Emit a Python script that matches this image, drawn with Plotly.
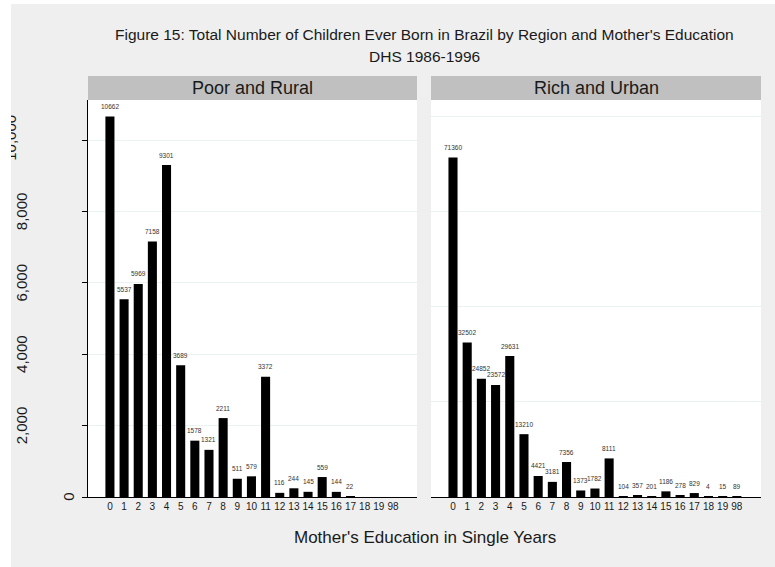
import plotly.graph_objects as go

# Mother's years of schooling (98 = unknown)
categories = [str(i) for i in range(20)] + ["98"]

# Total children ever born, by region group
poor_rural = [10662, 5537, 5969, 7158, 9301, 3689, 1578, 1321, 2211, 511, 579,
              3372, 116, 244, 145, 559, 144, 22, None, None, None]
rich_urban = [71360, 32502, 24852, 23572, 29631, 13210, 4421, 3181, 7356, 1373,
              1782, 8111, 104, 357, 201, 1186, 278, 829, 4, 15, 89]

panel_titles = ["Poor and Rural", "Rich and Urban"]
left_ticks = [0, 2000, 4000, 6000, 8000, 10000]
left_tick_text = ["0", "2,000", "4,000", "6,000", "8,000", "10,000"]
right_grid = [0, 20000, 40000, 60000, 80000]

FONT = "Liberation Sans, Arial, sans-serif"
W, H = 775, 567
ML, MR, MT, MB = 88, 14, 100, 70
PW = W - ML - MR
PH = H - MT - MB
gap_px = 14
split = (417 - ML) / PW
dom1 = [0, split]
dom2 = [split + gap_px / PW, 1]
TICK_FS = 15
LEFT_RANGE = [0, 11122]

fig = go.Figure()
for vals, xa, ya in [(poor_rural, "x", "y"), (rich_urban, "x2", "y2")]:
    fig.add_trace(go.Bar(
        x=categories, y=vals, xaxis=xa, yaxis=ya,
        marker=dict(color="black", line=dict(width=0)),
        width=0.64, showlegend=False, hoverinfo="x+y",
    ))
# empty trace so the overlaid label axis is drawn
fig.add_trace(go.Scatter(x=[None], y=[None], xaxis="x", yaxis="y3",
                         mode="markers", showlegend=False, hoverinfo="skip"))

annotations = []
# value labels above each bar (x given as category index)
for vals, xr, yr in [(poor_rural, "x", "y"), (rich_urban, "x2", "y2")]:
    for i, v in enumerate(vals):
        if v is None:
            continue
        annotations.append(dict(
            x=i, y=v, xref=xr, yref=yr, text=str(v), showarrow=False,
            yshift=10, font=dict(family=FONT, size=6.5, color="#333333"),
        ))


def label_width(s, fs):
    # approximate Arial advance widths: digits 0.556em, comma 0.278em
    return fs * sum(0.278 if ch == "," else 0.556 for ch in s)


# vertical y tick labels; longer labels sit further from the axis.
# The top label runs into the page frame, so it is drawn as an axis
# tick label (below the frame) rather than an annotation.
for val, txt in zip(left_ticks[:-1], left_tick_text[:-1]):
    cx = 81 - 1.58 * label_width(txt, TICK_FS)
    annotations.append(dict(
        x=(cx - ML) / PW, y=val, xref="paper", yref="y", text=txt,
        textangle=-90, showarrow=False, xanchor="center", yanchor="middle",
        font=dict(family=FONT, size=TICK_FS, color="#1a1a1a"),
    ))

# panel headers
strip_h = 24 / PH
shapes = []
for title, xr in zip(panel_titles, ["x domain", "x2 domain"]):
    shapes.append(dict(type="rect", xref=xr, yref="paper", x0=0, x1=1,
                       y0=1, y1=1 + strip_h, fillcolor="#c0c0c0",
                       line=dict(width=0), layer="below"))
    annotations.append(dict(
        x=0.5, y=1 + strip_h / 2, xref=xr, yref="paper", text=title,
        showarrow=False, xanchor="center", yanchor="middle",
        font=dict(family=FONT, size=18, color="#1a1a1a"),
    ))

# white frame along the top and left edges of the page
shapes.append(dict(type="rect", xref="paper", yref="paper",
                   x0=-ML / PW, x1=(11 - ML) / PW, y0=-MB / PH, y1=(H - MB) / PH,
                   fillcolor="white", line=dict(width=0), layer="above"))
shapes.append(dict(type="rect", xref="paper", yref="paper",
                   x0=-ML / PW, x1=(W - ML) / PW, y0=(H - MB - 4) / PH, y1=(H - MB) / PH,
                   fillcolor="white", line=dict(width=0), layer="above"))

# title lines
annotations.append(dict(
    x=0.5, y=(H - MB - 35) / PH, xref="paper", yref="paper",
    text="Figure 15: Total Number of Children Ever Born in Brazil by Region and Mother's Education",
    showarrow=False, xanchor="center", yanchor="middle",
    font=dict(family=FONT, size=15.5, color="#1a1a1a"),
))
annotations.append(dict(
    x=0.5, y=(H - MB - 56) / PH, xref="paper", yref="paper", text="DHS 1986-1996",
    showarrow=False, xanchor="center", yanchor="middle",
    font=dict(family=FONT, size=15.5, color="#1a1a1a"),
))
# x axis title
annotations.append(dict(
    x=0.5, y=-(537 - (H - MB)) / PH, xref="paper", yref="paper",
    text="Mother's Education in Single Years",
    showarrow=False, xanchor="center", yanchor="middle",
    font=dict(family=FONT, size=17, color="#1a1a1a"),
))

xcommon = dict(
    type="category", range=[-1.55, 21.7], showgrid=False, zeroline=False,
    showline=True, linecolor="black", linewidth=1, ticks="",
    tickfont=dict(family=FONT, size=10, color="#1a1a1a"), fixedrange=True,
    automargin=False,
)

fig.update_layout(
    width=W, height=H,
    margin=dict(l=ML, r=MR, t=MT, b=MB),
    paper_bgcolor="#efefef", plot_bgcolor="white",
    bargap=0.36,
    xaxis=dict(domain=dom1, anchor="y", **xcommon),
    xaxis2=dict(domain=dom2, anchor="y2", **xcommon),
    yaxis=dict(
        domain=[0, 1], anchor="x", range=LEFT_RANGE,
        tickvals=left_ticks, showticklabels=False,
        ticks="outside", ticklen=5, tickcolor="black", tickwidth=1,
        showgrid=True, gridcolor="#eaf2f3", gridwidth=1,
        showline=True, linecolor="black", linewidth=1, zeroline=False,
        fixedrange=True, automargin=False,
    ),
    yaxis3=dict(
        overlaying="y", anchor="x", side="left", range=LEFT_RANGE,
        tickvals=left_ticks[-1:], ticktext=left_tick_text[-1:], tickangle=-90,
        ticks="", ticklabelstandoff=68, automargin=False,
        tickfont=dict(family=FONT, size=TICK_FS, color="#1a1a1a"),
        showgrid=False, showline=False, zeroline=False, fixedrange=True,
    ),
    yaxis2=dict(
        domain=[0, 1], anchor="x2", range=[0, 83474],
        tickvals=right_grid, showticklabels=False, ticks="",
        showgrid=True, gridcolor="#eaf2f3", gridwidth=1,
        showline=False, zeroline=False, fixedrange=True, automargin=False,
    ),
    shapes=shapes, annotations=annotations,
)

fig.write_html("out.html")
